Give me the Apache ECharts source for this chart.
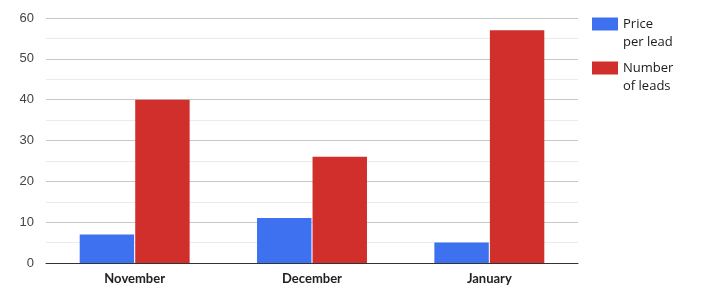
<!DOCTYPE html>
<html><head><meta charset="utf-8">
<script src="https://cdn.jsdelivr.net/npm/echarts@6/dist/echarts.min.js"></script>
<style>html,body{margin:0;padding:0;background:#fff}#c{width:706px;height:295px}</style>
</head><body><div id="c"></div>
<script>
const categories = ['November', 'December', 'January'];
const pricePerLead = [7, 11, 5];
const numberOfLeads = [40, 26, 57];
const seriesNames = ['Price per lead', 'Number of leads'];
const legendLabels = {'Price per lead': 'Price\nper lead', 'Number of leads': 'Number\nof leads'};

const chart = echarts.init(document.getElementById('c'));
chart.setOption({
  animation: false,
  grid: {left: 46, right: 128, top: 18, bottom: 32},
  legend: {
    orient: 'vertical', left: 592, top: 15, padding: 0, itemGap: 8,
    itemWidth: 26, itemHeight: 31,
    icon: 'path://M0,0L26,0L26,13L0,13Z M0,31L26,31',
    data: seriesNames,
    formatter: n => legendLabels[n],
    textStyle: {fontFamily: 'Open Sans', fontSize: 13, color: '#1a1a1a', lineHeight: 18}
  },
  xAxis: {
    type: 'category', data: categories,
    axisTick: {show: false},
    axisLine: {lineStyle: {color: '#333', width: 1}},
    axisLabel: {fontFamily: 'Lato', fontSize: 13, fontWeight: 'bold', color: '#222', margin: 9}
  },
  yAxis: {
    type: 'value', min: 0, max: 60, interval: 10,
    axisLabel: {fontFamily: 'Liberation Sans', fontSize: 13, color: '#444', margin: 12},
    splitLine: {lineStyle: {color: '#c8c8c8'}},
    minorTick: {show: false, splitNumber: 2},
    minorSplitLine: {show: true, lineStyle: {color: '#ebebeb'}}
  },
  series: [
    {name: seriesNames[0], type: 'bar', data: pricePerLead, itemStyle: {color: '#3d71f0'}, barGap: '2%', barCategoryGap: '38%'},
    {name: seriesNames[1], type: 'bar', data: numberOfLeads, itemStyle: {color: '#d12f2b'}, barGap: '2%', barCategoryGap: '38%'}
  ]
});
</script></body></html>
